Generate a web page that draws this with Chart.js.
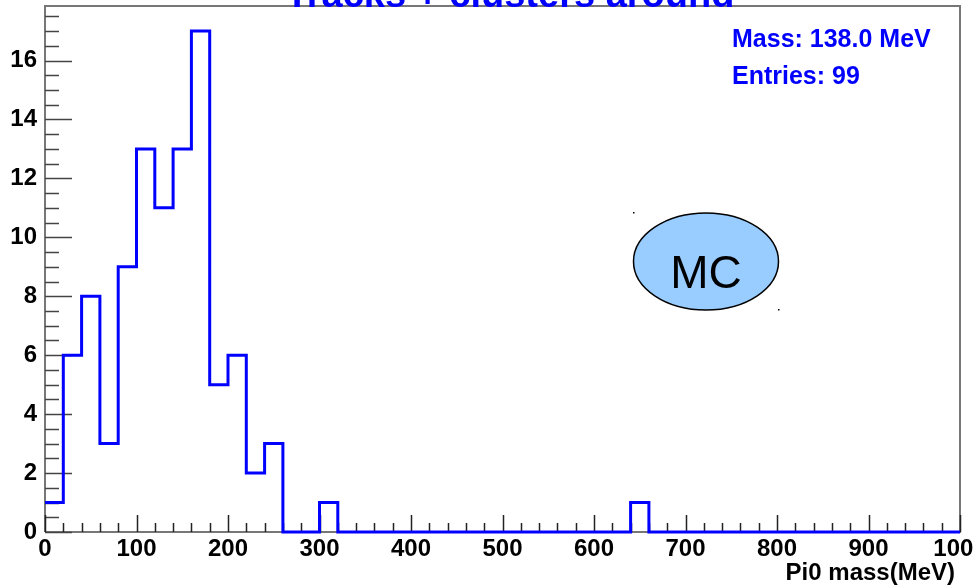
<!DOCTYPE html>
<html>
<head>
<meta charset="utf-8">
<script src="https://cdn.jsdelivr.net/npm/chart.js@4.4.0/dist/chart.umd.min.js"></script>
<style>
  html, body { margin: 0; padding: 0; background: #ffffff; }
  #histo { display: block; }
</style>
</head>
<body>
<canvas id="histo" width="973" height="588"></canvas>
<script>
// ======================================
// DATA (Pi0 mass, 20 MeV bins, 0..1000 MeV)
// ======================================
const binWidth = 20;
const counts = [
  1, 6, 8, 3, 9, 13, 11, 13, 17, 5,
  6, 2, 3, 0, 0, 1, 0, 0, 0, 0,
  0, 0, 0, 0, 0, 0, 0, 0, 0, 0,
  0, 0, 1, 0, 0, 0, 0, 0, 0, 0,
  0, 0, 0, 0, 0, 0, 0, 0, 0, 0
];
const xRange = [0, 1000];
const yRange = [0, 17.85];
const titleText = 'Tracks + clusters around';
const xTitle = 'Pi0 mass(MeV)';
const statLines = ['Mass: 138.0 MeV', 'Entries: 99'];
const labelMC = 'MC';

// ======================================
// HELPERS
// ======================================
const FONT = '"Liberation Sans", Arial, Helvetica, sans-serif';
const BLUE = '#0000ff';
const AXIS = '#777777';

function histPoints(values, width) {
    const pts = values.map((v, i) => ({ x: i * width, y: v }));
    pts.push({ x: values.length * width, y: values[values.length - 1] });
    return pts;
}

// frame + inner ticks, ROOT style
const rootFrame = {
    id: 'rootFrame',
    beforeDatasetsDraw(chart) {
        const { ctx, chartArea: a, scales: { x, y } } = chart;
        ctx.save();
        ctx.strokeStyle = AXIS; ctx.lineWidth = 2;
        ctx.beginPath();
        ctx.moveTo(a.left, a.bottom); ctx.lineTo(a.left, a.top);
        ctx.lineTo(a.right, a.top); ctx.lineTo(a.right, a.bottom);
        ctx.lineTo(a.left, a.bottom);
        ctx.stroke();
        // y ticks: minor every 0.5, major every 2
        ctx.strokeStyle = '#444'; ctx.lineWidth = 1.5;
        ctx.beginPath();
        for (let v = 0; v <= yRange[1]; v += 0.5) {
            const py = Math.round(y.getPixelForValue(v)) + 0.5;
            const len = (v % 2 === 0) ? 27 : 14;
            ctx.moveTo(a.left, py); ctx.lineTo(a.left + len, py);
        }
        ctx.stroke();
        // x ticks: minor every 20, major every 100
        ctx.strokeStyle = '#222';
        ctx.beginPath();
        for (let v = xRange[0]; v <= xRange[1]; v += binWidth) {
            const px = Math.round(x.getPixelForValue(v)) + 0.5;
            const len = (v % 100 === 0) ? 17 : 9;
            ctx.moveTo(px, a.bottom); ctx.lineTo(px, a.bottom - len);
        }
        ctx.stroke();
        ctx.restore();
    },
    afterDraw(chart) {
        const { ctx } = chart;
        ctx.save();
        // title, partly out of the canvas
        ctx.fillStyle = BLUE; ctx.font = 'bold 38px ' + FONT;
        ctx.textAlign = 'center'; ctx.textBaseline = 'alphabetic';
        ctx.fillText(titleText, 510, 7);
        // stats
        ctx.font = 'bold 25px ' + FONT; ctx.textAlign = 'left';
        ctx.fillText(statLines[0], 732, 47);
        ctx.fillText(statLines[1], 732, 84);
        // x axis title
        ctx.fillStyle = '#000'; ctx.font = 'bold 24px ' + FONT; ctx.textAlign = 'right';
        ctx.fillText(xTitle, 955, 580);
        // MC ellipse
        ctx.beginPath();
        ctx.ellipse(706, 261.5, 72.5, 48.5, 0, 0, Math.PI * 2);
        ctx.fillStyle = '#99ccff'; ctx.fill();
        ctx.strokeStyle = '#000'; ctx.lineWidth = 1.5; ctx.stroke();
        ctx.fillStyle = '#000'; ctx.font = '46px ' + FONT; ctx.textAlign = 'center';
        ctx.fillText(labelMC, 706, 288);
        ctx.fillRect(633, 212, 1.5, 1.5);
        ctx.fillRect(778, 309, 1.5, 1.5);
        ctx.restore();
    }
};

// ======================================
// CHART
// ======================================
document.addEventListener('DOMContentLoaded', function() {
    const ctx = document.getElementById('histo').getContext('2d');
    new Chart(ctx, {
        type: 'line',
        data: {
            datasets: [{
                label: 'Pi0 mass',
                data: histPoints(counts, binWidth),
                stepped: true,
                borderColor: BLUE, borderWidth: 3,
                pointRadius: 0, fill: false, clip: 4
            }]
        },
        options: {
            responsive: false, animation: false,
            layout: { padding: { top: 6, right: 13, left: 0, bottom: 0 } },
            plugins: { legend: { display: false }, tooltip: { enabled: false }, title: { display: false } },
            scales: {
                x: {
                    type: 'linear', min: xRange[0], max: xRange[1],
                    grid: { display: false, drawTicks: false, tickLength: 0 }, border: { display: false },
                    ticks: { stepSize: 100, autoSkip: false, maxRotation: 0, color: '#000', padding: 3,
                             font: { family: FONT, size: 24, weight: 'bold' },
                             callback: function(v) { return String(v); } },
                    afterFit(scale) { scale.height = 56; scale.paddingLeft = 0; scale.paddingRight = 0; }
                },
                y: {
                    min: yRange[0], max: yRange[1],
                    grid: { display: false, drawTicks: false, tickLength: 0 }, border: { display: false },
                    ticks: { stepSize: 2, includeBounds: false, color: '#000', padding: 8,
                             font: { family: FONT, size: 24, weight: 'bold' },
                             callback: function(v) { return String(v); } },
                    afterFit(scale) { scale.width = 45; scale.paddingTop = 0; scale.paddingBottom = 0; }
                }
            }
        },
        plugins: [rootFrame]
    });
});
</script>
</body>
</html>
